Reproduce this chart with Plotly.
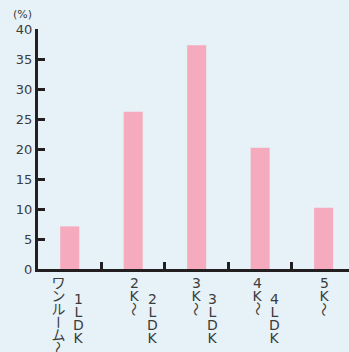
import plotly.graph_objects as go

# Share of households by floor plan (%)
categories = ["ワンルーム～1LDK", "2K～2LDK", "3K～3LDK", "4K～4LDK", "5K～"]
shares = [7.1, 26.2, 37.3, 20.2, 10.2]
y_ticks = [0, 5, 10, 15, 20, 25, 30, 35, 40]

BG = "#e6f2f8"
BAR = "#f5abbd"
INK = "#231f20"
TEXT = "#3c3c3c"
FONT = "DejaVu Sans, Noto Sans CJK JP"

# horizontal pixel offsets of the two vertical label columns per category
col_shift = [(-11.5, 8.5), (1, 19), (-0.5, 16), (-2.5, 14), (0.5, None)]
ROW_PITCH = 13.0
COL1_TOP = 14.0   # px below the x axis to the first character centre
COL2_TOP = 29.5
ROTATED = {"ー", "～"}

positions = list(range(len(categories)))
# category separators sit halfway between neighbouring bars
separators = [p + 0.5 for p in positions[:-1]]

fig = go.Figure(
    go.Bar(
        x=positions,
        y=shares,
        marker=dict(color=BAR, line=dict(width=0)),
        width=0.3,
        hoverinfo="skip",
    )
)

annotations = []


def vertical_text(text, idx, xshift, top):
    for row, ch in enumerate(text):
        annotations.append(dict(
            x=idx, xref="x", y=0, yref="paper",
            xshift=xshift, yshift=-(top + row * ROW_PITCH),
            text=ch, showarrow=False,
            xanchor="center", yanchor="middle",
            height=12, width=15, borderpad=0,
            textangle=90 if ch in ROTATED else 0,
            font=dict(family=FONT, size=14, color=TEXT),
        ))


for i, name in enumerate(categories):
    head, _, tail = name.partition("～")
    vertical_text(head + "～", i, col_shift[i][0], COL1_TOP)
    if tail:
        vertical_text(tail, i, col_shift[i][1], COL2_TOP)

annotations.append(dict(
    x=0, xref="paper", y=1, yref="paper", xanchor="right", yanchor="middle",
    xshift=-4, yshift=15, text="(%)", showarrow=False,
    font=dict(family=FONT, size=11, color=TEXT),
))

fig.update_layout(
    width=349, height=352,
    margin=dict(l=38, r=0, t=29, b=83),
    paper_bgcolor=BG, plot_bgcolor=BG,
    showlegend=False,
    annotations=annotations,
    xaxis=dict(
        range=[-0.5, 4.4],
        tickmode="array", tickvals=separators,
        showticklabels=False,
        ticks="inside",
        ticklen=7, tickwidth=2.5, tickcolor=INK,
        showline=True, linewidth=3, linecolor=INK,
        showgrid=False, zeroline=False, fixedrange=True,
    ),
    yaxis=dict(
        range=[0, 40],
        tickmode="array", tickvals=y_ticks,
        ticks="inside", ticklen=7, tickwidth=3, tickcolor=INK,
        showline=True, linewidth=3, linecolor=INK,
        showgrid=False, zeroline=False, fixedrange=True,
        tickfont=dict(family=FONT, size=13, color=TEXT),
    ),
)

fig.write_html("out.html")
